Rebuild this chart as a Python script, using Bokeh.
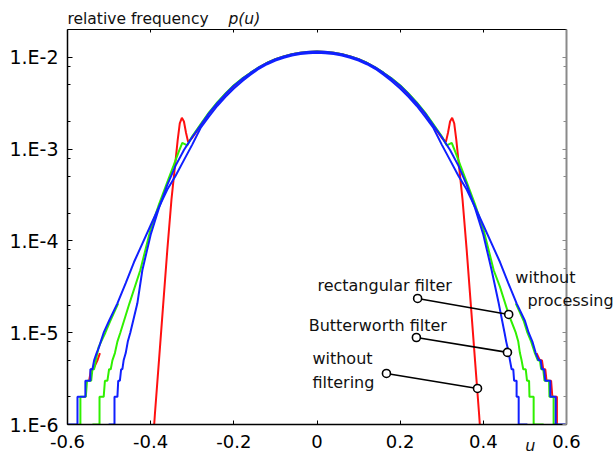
from bokeh.plotting import figure
from bokeh.models import FixedTicker, CustomJSTickFormatter, LinearAxis, LogAxis, Label
from bokeh.core.properties import value
from bokeh.embed import file_html
from bokeh.resources import INLINE

# ---------------- data ----------------
core_x = [-0.30, -0.28, -0.26, -0.24, -0.22, -0.20, -0.18, -0.16, -0.14, -0.12, -0.10,
          -0.08, -0.06, -0.04, -0.02, 0.0, 0.02, 0.04, 0.06, 0.08, 0.10, 0.12, 0.14,
          0.16, 0.18, 0.20, 0.22, 0.24, 0.26, 0.28, 0.30]

# Butterworth filter (inner blue)
bw_left_x = [-0.501, -0.487, -0.487, -0.480, -0.478, -0.474, -0.471, -0.468, -0.465, -0.460,
             -0.455, -0.449, -0.432, -0.42, -0.40, -0.38, -0.36, -0.34, -0.32]
bw_left_p = [1e-6, 1e-6, 2e-6, 2e-6, 3e-6, 3e-6, 4e-6, 4e-6, 5e-6, 6e-6,
             8e-6, 1.0e-5, 2.09e-5, 4.79e-5, 1.17e-4, 2.29e-4, 4.07e-4, 6.61e-4, 9.77e-4]
bw_core_p = [1.35e-3, 1.82e-3, 2.45e-3, 3.16e-3, 3.98e-3, 4.90e-3, 5.82e-3, 6.76e-3, 7.76e-3,
             8.71e-3, 9.55e-3, 1.023e-2, 1.084e-2, 1.122e-2, 1.148e-2, 1.161e-2, 1.148e-2,
             1.122e-2, 1.084e-2, 1.023e-2, 9.55e-3, 8.71e-3, 7.76e-3, 6.76e-3, 5.82e-3,
             4.90e-3, 3.98e-3, 3.16e-3, 2.45e-3, 1.82e-3, 1.35e-3]
bw_right_x = [0.32, 0.34, 0.36, 0.38, 0.40, 0.42, 0.437, 0.451, 0.455, 0.458, 0.461, 0.464,
              0.468, 0.472, 0.474, 0.480, 0.480, 0.485, 0.485, 0.506]
bw_right_p = [9.77e-4, 6.61e-4, 4.07e-4, 2.29e-4, 1.17e-4, 4.79e-5, 2.09e-5, 1.0e-5, 8e-6,
              7e-6, 6e-6, 5e-6, 4e-6, 4e-6, 3e-6, 3e-6, 2e-6, 2e-6, 1e-6, 1e-6]

# rectangular filter (green)
rect_left_x = [-0.540, -0.523, -0.523, -0.513, -0.510, -0.504, -0.500, -0.496, -0.492, -0.486,
               -0.480, -0.473, -0.451, -0.425, -0.40, -0.38, -0.36, -0.345, -0.334, -0.324, -0.312]
rect_left_p = [1e-6, 1e-6, 2e-6, 2e-6, 3e-6, 3e-6, 4e-6, 4e-6, 5e-6, 6e-6,
               8e-6, 1.0e-5, 2.09e-5, 4.79e-5, 1.35e-4, 2.51e-4, 4.37e-4, 6.6e-4, 9.0e-4,
               1.17e-3, 1.10e-3]
rect_core_p = [1.38e-3, 1.86e-3, 2.50e-3, 3.22e-3, 4.05e-3, 4.97e-3, 5.88e-3, 6.80e-3, 7.78e-3,
               8.72e-3, 9.55e-3, 1.022e-2, 1.082e-2, 1.12e-2, 1.145e-2, 1.158e-2, 1.145e-2,
               1.12e-2, 1.082e-2, 1.022e-2, 9.55e-3, 8.72e-3, 7.78e-3, 6.80e-3, 5.88e-3,
               4.97e-3, 4.05e-3, 3.22e-3, 2.50e-3, 1.86e-3, 1.38e-3]
rect_right_x = [0.312, 0.324, 0.334, 0.345, 0.36, 0.38, 0.40, 0.425, 0.44, 0.461, 0.478, 0.484,
                0.488, 0.492, 0.496, 0.502, 0.505, 0.510, 0.511, 0.521, 0.521, 0.545]
rect_right_p = [1.10e-3, 1.17e-3, 9.0e-4, 6.6e-4, 4.37e-4, 2.51e-4, 1.35e-4, 4.79e-5, 3.16e-5,
                1.58e-5, 1.0e-5, 8e-6, 6e-6, 5e-6, 4e-6, 4e-6, 3e-6, 3e-6, 2e-6, 2e-6, 1e-6, 1e-6]

# without filtering (red)
nofilt_left_x = [-0.393, -0.39, -0.38, -0.37, -0.36, -0.35, -0.34, -0.335, -0.33, -0.325,
                 -0.32, -0.315, -0.31]
nofilt_left_p = [8e-7, 1.26e-6, 5.0e-6, 2.0e-5, 7.94e-5, 2.82e-4, 7.59e-4, 1.26e-3, 1.91e-3,
                 2.19e-3, 2.0e-3, 1.51e-3, 1.20e-3]
nofilt_core_p = [1.33e-3, 1.80e-3, 2.43e-3, 3.14e-3, 3.96e-3, 4.88e-3, 5.80e-3, 6.74e-3, 7.74e-3,
                 8.70e-3, 9.54e-3, 1.022e-2, 1.082e-2, 1.12e-2, 1.146e-2, 1.159e-2, 1.146e-2,
                 1.12e-2, 1.082e-2, 1.022e-2, 9.54e-3, 8.70e-3, 7.74e-3, 6.74e-3, 5.80e-3,
                 4.88e-3, 3.96e-3, 3.14e-3, 2.43e-3, 1.80e-3, 1.33e-3]
nofilt_right_x = [0.31, 0.315, 0.32, 0.325, 0.33, 0.335, 0.34, 0.35, 0.36, 0.37, 0.38, 0.39, 0.393]
nofilt_right_p = [1.20e-3, 1.51e-3, 2.0e-3, 2.19e-3, 1.91e-3, 1.26e-3, 7.59e-4, 2.82e-4, 7.94e-5,
                  2.0e-5, 5.0e-6, 1.26e-6, 8e-7]

# without processing (outer blue)
raw_left_x = [-0.600, -0.576, -0.576, -0.557, -0.557, -0.545, -0.545, -0.540, -0.536, -0.530,
              -0.524, -0.520, -0.513, -0.50, -0.48, -0.46, -0.44, -0.42, -0.40, -0.38, -0.36,
              -0.34, -0.32]
raw_left_p = [1e-6, 1e-6, 2e-6, 2e-6, 3e-6, 3e-6, 4e-6, 4e-6, 5e-6, 6e-6, 7e-6, 8e-6, 1.0e-5,
              1.35e-5, 2.09e-5, 3.47e-5, 5.89e-5, 9.33e-5, 1.48e-4, 2.34e-4, 3.63e-4, 5.13e-4, 7.59e-4]
raw_core_p = [1.12e-3, 1.70e-3, 2.26e-3, 2.95e-3, 3.72e-3, 4.57e-3, 5.50e-3, 6.46e-3, 7.50e-3,
              8.41e-3, 9.23e-3, 9.89e-3, 1.047e-2, 1.084e-2, 1.109e-2, 1.122e-2, 1.109e-2,
              1.084e-2, 1.047e-2, 9.89e-3, 9.23e-3, 8.41e-3, 7.50e-3, 6.46e-3, 5.50e-3,
              4.57e-3, 3.72e-3, 2.95e-3, 2.26e-3, 1.70e-3, 1.12e-3]
raw_right_x = [0.32, 0.34, 0.36, 0.38, 0.40, 0.42, 0.44, 0.46, 0.48, 0.50, 0.509, 0.518, 0.526,
               0.533, 0.538, 0.541, 0.546, 0.549, 0.561, 0.561, 0.574, 0.574, 0.598]
raw_right_p = [7.59e-4, 5.13e-4, 3.63e-4, 2.34e-4, 1.48e-4, 9.33e-5, 5.89e-5, 3.47e-5, 2.09e-5,
               1.35e-5, 1.0e-5, 8e-6, 6e-6, 5e-6, 5e-6, 4e-6, 4e-6, 3e-6, 3e-6, 2e-6, 2e-6, 1e-6, 1e-6]

# tails of the unprocessed histogram that peek out in green and red
rawg_left_x = [-0.572, -0.569, -0.569, -0.556, -0.553, -0.543, -0.540, -0.536, -0.532, -0.525,
               -0.509, -0.497, -0.478]
rawg_left_p = [1e-6, 1e-6, 2e-6, 2e-6, 3e-6, 3e-6, 4e-6, 4e-6, 5e-6, 7e-6, 1.0e-5, 1.35e-5, 2.09e-5]
rawg_right_x = [0.478, 0.497, 0.506, 0.515, 0.524, 0.531, 0.536, 0.539, 0.544, 0.547, 0.558,
                0.559, 0.569, 0.569, 0.58]
rawg_right_p = [2.09e-5, 1.35e-5, 1.0e-5, 8e-6, 6e-6, 5e-6, 5e-6, 4e-6, 4e-6, 3e-6, 3e-6,
                2e-6, 2e-6, 1e-6, 1e-6]
rawr_left_x = [-0.548, -0.543, -0.538, -0.528, -0.522]
rawr_left_p = [3e-6, 4e-6, 4e-6, 5e-6, 6e-6]
rawr_right_x = [0.528, 0.536, 0.541, 0.544, 0.549, 0.552, 0.563, 0.566, 0.577, 0.577]
rawr_right_p = [6e-6, 5e-6, 5e-6, 4e-6, 4e-6, 3e-6, 3e-6, 2e-6, 2e-6, 1e-6]

x_ticks = [-0.6, -0.4, -0.2, 0.0, 0.2, 0.4, 0.6]
y_ticks = [1e-6, 1e-5, 1e-4, 1e-3, 1e-2]
y_minor = [2e-6, 5e-6, 8e-6, 2e-5, 5e-5, 8e-5, 2e-4, 5e-4, 8e-4, 2e-3, 5e-3, 8e-3]

# annotation callouts: (text-side circle) -> (curve-side circle)
call_rect = ([0.242, 0.461], [2.36e-5, 1.58e-5])
call_bw = ([0.239, 0.458], [8.87e-6, 6.1e-6])
call_nofilt = ([0.167, 0.386], [3.6e-6, 2.47e-6])

RED = "#ff1010"
GREEN = "#30f000"
BLUE = "#1020ff"
FONT = "DejaVu Sans"

# ---------------- figure ----------------
p = figure(width=615, height=458, y_axis_type="log",
           x_range=(-0.6, 0.6), y_range=(1e-6, 2.01e-2),
           output_backend="svg", toolbar_location=None,
           min_border_left=67, min_border_right=49, min_border_top=29, min_border_bottom=34)
p.outline_line_color = None
p.grid.visible = False
p.background_fill_color = "white"
p.border_fill_color = "white"

# curves
p.line(rawr_left_x, rawr_left_p, line_color=RED, line_width=2)
p.line(rawr_right_x, rawr_right_p, line_color=RED, line_width=2)
p.line(rawg_left_x, rawg_left_p, line_color=GREEN, line_width=2)
p.line(rawg_right_x, rawg_right_p, line_color=GREEN, line_width=2)
p.line(nofilt_left_x + core_x + nofilt_right_x, nofilt_left_p + nofilt_core_p + nofilt_right_p,
       line_color=RED, line_width=2)
p.line(rect_left_x + core_x + rect_right_x, rect_left_p + rect_core_p + rect_right_p,
       line_color=GREEN, line_width=2)
p.line(bw_left_x + core_x + bw_right_x, bw_left_p + bw_core_p + bw_right_p,
       line_color=BLUE, line_width=2)
p.line(raw_left_x + core_x + raw_right_x, raw_left_p + raw_core_p + raw_right_p,
       line_color=BLUE, line_width=2)

# callouts
for cx, cy in (call_rect, call_bw, call_nofilt):
    p.line(cx, cy, line_color="black", line_width=1.6)
    p.scatter(cx, cy, marker="circle", size=8, fill_color="white",
              line_color="black", line_width=1.6)

# axes
left = p.yaxis[0]
left.ticker = FixedTicker(ticks=y_ticks, minor_ticks=y_minor)
left.formatter = CustomJSTickFormatter(code="return '1.E' + Math.round(Math.log10(tick));")
bottom = p.xaxis[0]
bottom.ticker = FixedTicker(ticks=x_ticks)
bottom.formatter = CustomJSTickFormatter(code="return Math.abs(tick) < 1e-9 ? '0' : tick.toFixed(1);")
for ax in (left, bottom):
    ax.axis_line_color = "black"
    ax.axis_line_width = 1.5
    ax.major_tick_line_color = "black"
    ax.minor_tick_line_color = "black"
    ax.major_tick_out = 0
    ax.minor_tick_out = 0
    ax.major_label_text_font = FONT
    ax.major_label_text_color = "black"
left.major_label_text_font_size = "19px"
bottom.major_label_text_font_size = "18px"
left.major_tick_in = 5
left.minor_tick_in = 3
left.major_label_standoff = 9
bottom.major_tick_in = 4
bottom.minor_tick_in = 0
bottom.major_label_standoff = 10

empty = CustomJSTickFormatter(code="return '';")
top = LinearAxis(ticker=FixedTicker(ticks=x_ticks), formatter=empty,
                 axis_line_color="black", axis_line_width=1,
                 major_tick_in=3, major_tick_out=0, minor_tick_in=0, minor_tick_out=0,
                 major_tick_line_color="black", major_label_text_font_size="0px")
p.add_layout(top, "above")
right = LogAxis(ticker=FixedTicker(ticks=y_ticks, minor_ticks=y_minor), formatter=empty,
                axis_line_color="#8a8a8a", axis_line_width=2,
                major_tick_in=4, major_tick_out=0, minor_tick_in=3, minor_tick_out=0,
                major_tick_line_color="#8a8a8a", minor_tick_line_color="#8a8a8a",
                major_label_text_font_size="0px")
p.add_layout(right, "right")

# texts that reach outside the frame: text glyphs at the overlay level
def outside_text(x, y, txt, style="normal", size="16px"):
    p.text(x=[x], y=[y], text=[txt], text_font=value(FONT), text_font_size=value(size),
           text_font_style=style, text_color="#111111",
           text_baseline="middle", text_align="left", level="overlay")

outside_text(-0.6, 0.0259, "relative frequency", size="15.5px")
outside_text(-0.213, 0.0259, "p(u)", style="italic", size="15.5px")
outside_text(0.501, 5.9e-7, "u", style="italic")
outside_text(0.477, 4.0e-5, "without")
outside_text(0.506, 2.25e-5, "processing")

# inside the frame: labels at data positions
def make_label(x, y, txt):
    return Label(x=x, y=y, text=txt, text_font=FONT, text_font_size="16px",
                 text_color="#111111", text_baseline="middle", text_align="left")

p.add_layout(make_label(0.001, 3.27e-5, "rectangular filter"))
p.add_layout(make_label(-0.020, 1.2e-5, "Butterworth filter"))
p.add_layout(make_label(-0.011, 5.24e-6, "without"))
p.add_layout(make_label(-0.011, 2.87e-6, "filtering"))

open("out.html", "w").write(file_html(p, INLINE))
